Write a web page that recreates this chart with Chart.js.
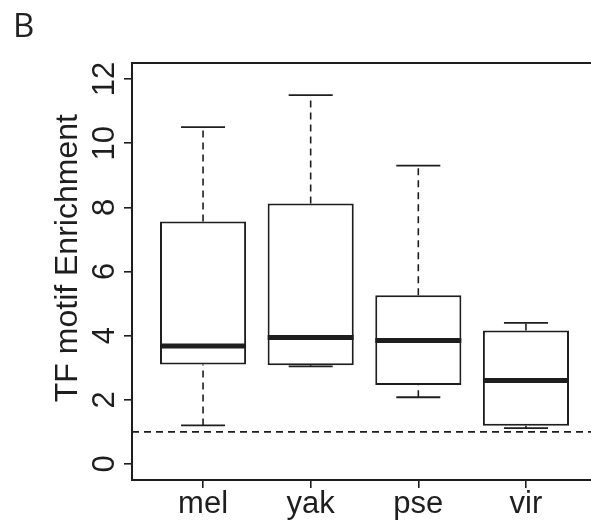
<!DOCTYPE html>
<html>
<head>
<meta charset="utf-8">
<script src="https://cdn.jsdelivr.net/npm/chart.js@4.4.1/dist/chart.umd.min.js"></script>
<style>
  html, body { margin: 0; padding: 0; background: #fff; overflow: hidden; }
  #wrap { position: relative; width: 600px; height: 526px; }
  #panel { position: absolute; left: 13px; top: 8px; font: 33px/33px "Open Sans", sans-serif; color: #222; }
</style>
</head>
<body>
<div id="wrap">
  <canvas id="boxChart" width="600" height="526"></canvas>
  <div id="panel">B</div>
</div>
<script>
/* ---------- data ---------- */
const CATEGORIES   = ["mel", "yak", "pse", "vir"];
const WHISKER_LOW  = [1.20, 3.04, 2.08, 1.12];
const Q1           = [3.10, 3.08, 2.46, 1.19];
const MEDIAN       = [3.68, 3.94, 3.85, 2.60];
const Q3           = [7.56, 8.12, 5.26, 4.16];
const WHISKER_HIGH = [10.50, 11.50, 9.30, 4.40];
const REF_LINE     = 1;
const Y_TICKS      = [0, 2, 4, 6, 8, 10, 12];

/* axis limits (R style, 4% expansion) */
const X_MIN = 0.34, X_MAX = 4.66;
const Y_MIN = -0.5, Y_MAX = 12.5;

/* ---------- style ---------- */
const INK = "#1e1e1e";
const FONT = { family: "'Liberation Sans', Arial, sans-serif", size: 31 };
const TITLE_FONT = { family: "'Liberation Sans', Arial, sans-serif", size: 32 };
const DASH = [7, 5];

const pos = (arr) => arr.map((v, i) => ({ x: i + 1, y: v }));

const datasets = [];

// medians (drawn on top)
datasets.push({
  type: "line", showLine: false, data: pos(MEDIAN),
  pointStyle: "line", pointRadius: 43, pointBorderWidth: 5,
  pointBorderColor: INK, pointBackgroundColor: INK
});

// whisker caps
datasets.push({
  type: "line", showLine: false, data: pos(WHISKER_LOW).concat(pos(WHISKER_HIGH)),
  pointStyle: "line", pointRadius: 22, pointBorderWidth: 1.8,
  pointBorderColor: INK, pointBackgroundColor: INK
});

// boxes q1..q3
datasets.push({
  type: "bar",
  data: CATEGORIES.map((c, i) => ({ x: i + 1, y: [Q1[i], Q3[i]] })),
  backgroundColor: "#fff", borderColor: INK, borderWidth: 2, borderSkipped: false,
  barPercentage: 0.8, categoryPercentage: 1
});

// dashed whiskers
CATEGORIES.forEach((c, i) => {
  [[Q3[i], WHISKER_HIGH[i]], [WHISKER_LOW[i], Q1[i]]].forEach(([a, b]) => {
    datasets.push({
      type: "line", data: [{ x: i + 1, y: a }, { x: i + 1, y: b }],
      borderColor: INK, borderWidth: 1.6, borderDash: DASH, pointRadius: 0
    });
  });
});

// reference line at 1
datasets.push({
  type: "line", data: [{ x: X_MIN, y: REF_LINE }, { x: X_MAX, y: REF_LINE }],
  borderColor: INK, borderWidth: 1.6, borderDash: DASH, pointRadius: 0
});

// plot frame like R's box()
const framePlugin = {
  id: "frame",
  afterDraw(chart) {
    const { ctx, chartArea: a } = chart;
    ctx.save();
    ctx.strokeStyle = INK;
    ctx.lineWidth = 2;
    ctx.strokeRect(a.left, a.top, a.right - a.left, a.bottom - a.top);
    ctx.restore();
  }
};

new Chart(document.getElementById("boxChart"), {
  type: "bar",
  data: { datasets },
  plugins: [framePlugin],
  options: {
    responsive: false, animation: false, events: [],
    layout: { autoPadding: false, padding: { top: 63, right: 3, left: 0, bottom: 0 } },
    plugins: { legend: { display: false }, tooltip: { enabled: false } },
    scales: {
      x: {
        type: "linear", min: X_MIN, max: X_MAX, offset: false,
        afterBuildTicks: (s) => { s.ticks = CATEGORIES.map((c, i) => ({ value: i + 1 })); },
        afterFit: (s) => { s.height = 46; },
        ticks: { callback: (v) => CATEGORIES[v - 1], color: INK, font: FONT, padding: -2, autoSkip: false, maxRotation: 0 },
        grid: { offset: false, drawOnChartArea: false, drawTicks: true, tickLength: 8, color: INK, lineWidth: 1.6 },
        border: { display: true, color: INK, width: 2 }
      },
      y: {
        type: "linear", min: Y_MIN, max: Y_MAX,
        afterBuildTicks: (s) => { s.ticks = Y_TICKS.map((v) => ({ value: v })); },
        afterFit: (s) => { s.width = 132; },
        ticks: { minRotation: 90, maxRotation: 90, crossAlign: "center", padding: 1, color: INK, font: FONT },
        grid: { drawOnChartArea: false, drawTicks: true, tickLength: 8, color: INK, lineWidth: 1.6 },
        border: { display: true, color: INK, width: 2 },
        title: { display: true, text: "   TF motif Enrichment", color: INK, font: TITLE_FONT, padding: { top: 49, bottom: 0 } }
      }
    }
  }
});
</script>
</body>
</html>
